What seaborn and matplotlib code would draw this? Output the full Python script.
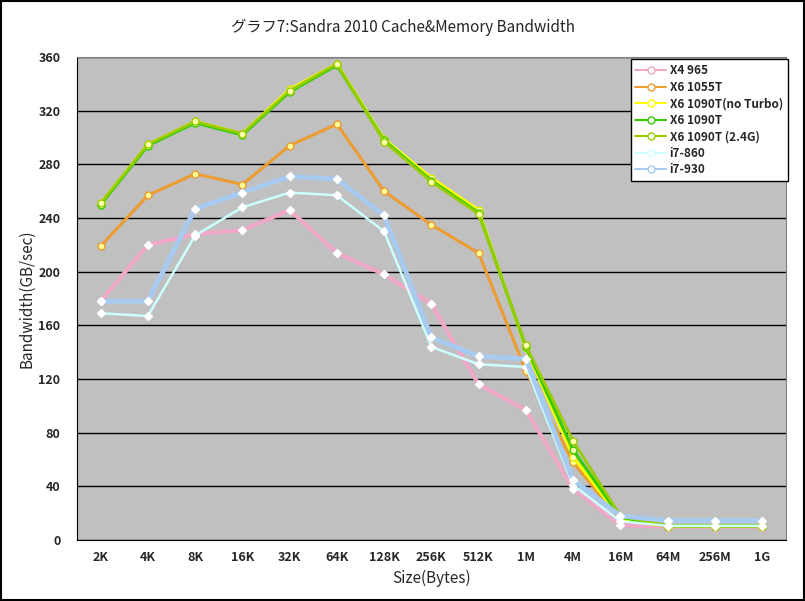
import matplotlib
matplotlib.use("Agg")
import matplotlib.pyplot as plt
import seaborn as sns
import pandas as pd
import numpy as np

sizes = ['2K', '4K', '8K', '16K', '32K', '64K', '128K', '256K', '512K',
         '1M', '4M', '16M', '64M', '256M', '1G']

x4_965 = [178, 220, 228, 231, 246, 214, 198, 176, 116, 97, 38, 11, 10, 10, 10]
x6_1055t = [219, 257, 273, 265, 294, 310, 260, 235, 214, 126, 58, 15, 10, 10, 10]
x6_1090t_noturbo = [251, 295, 312, 303, 336, 355, 299, 270, 246, 143, 62, 16, 10.5, 10.5, 10.5]
x6_1090t = [250, 294, 311, 302, 334, 354, 298, 268, 244, 144, 67, 17, 10.5, 10.5, 10.5]
x6_1090t_24g = [251, 295, 312, 303, 335, 355, 297, 267, 243, 145, 74, 18, 10.5, 10.5, 10.5]
i7_860 = [169, 167, 227, 248, 259, 257, 230, 144, 131, 129, 41, 14, 10.5, 10.5, 10.5]
i7_930 = [178, 178, 247, 259, 271, 269, 242, 151, 137, 135, 45, 18, 14.5, 14.5, 14.5]

series = [
    ('X4 965', x4_965, '#F0A8C8', 3.0, 'D', 'white', 'white'),
    ('X6 1055T', x6_1055t, '#EC9C30', 2.2, 'o', '#FFFF99', '#EC9C30'),
    ('X6 1090T(no Turbo)', x6_1090t_noturbo, '#FFFF00', 2.2, 'o', '#FFFFB0', '#E8E800'),
    ('X6 1090T', x6_1090t, '#33CC00', 2.2, 'o', '#FFFFB0', '#33CC00'),
    ('X6 1090T (2.4G)', x6_1090t_24g, '#99CC00', 2.0, 'o', '#FFFFB0', '#99CC00'),
    ('i7-860', i7_860, '#CCFFFF', 1.8, 'D', 'white', 'white'),
    ('i7-930', i7_930, '#A6CAF0', 3.5, 'D', 'white', 'white'),
]

sns.set_style('white')
plt.rcParams['font.family'] = ['Noto Sans CJK JP', 'DejaVu Sans']

fig = plt.figure(figsize=(8.05, 6.01), dpi=100)
ax = fig.add_axes([0.0957, 0.1015, 0.8803, 0.8035])
ax.set_facecolor('#C0C0C0')

xs = np.arange(len(sizes))
for name, vals, color, lw, mk, mfc, mec in series:
    df = pd.DataFrame({'x': xs, 'y': vals})
    sns.lineplot(data=df, x='x', y='y', ax=ax, color=color, linewidth=lw,
                 marker=mk, markersize=4 if mk == 'D' else 5,
                 markerfacecolor=mfc, markeredgecolor=mec, markeredgewidth=1,
                 label=name)

ax.set_xlim(-0.5, len(sizes) - 0.5)
ax.set_ylim(0, 360)
ax.set_yticks(np.arange(0, 361, 40))
ax.yaxis.grid(True, color='black', linewidth=1)
ax.set_axisbelow(True)
ax.set_xticks(xs)
ax.set_xticklabels(sizes, fontsize=9, fontweight='bold')
ax.set_xticks(np.arange(-0.5, len(sizes)), minor=True)
ax.tick_params(axis='x', which='major', length=0, pad=8)
ax.tick_params(axis='x', which='minor', length=4, direction='out', color='black', width=1)
ax.tick_params(axis='y', length=5, direction='out', color='black', width=1, labelsize=9, pad=7)
for lab in ax.get_yticklabels():
    lab.set_fontweight('bold')

for side in ['top', 'right']:
    ax.spines[side].set_color('#808080')
for side in ['left', 'bottom']:
    ax.spines[side].set_color('black')

ax.set_xlabel('Size(Bytes)', fontsize=11, labelpad=4)
ax.set_ylabel('Bandwidth(GB/sec)', fontsize=11, labelpad=2)
fig.suptitle('グラフ7:Sandra 2010 Cache&Memory Bandwidth', fontsize=11, y=0.968)

leg = ax.legend(loc='upper right', bbox_to_anchor=(1.006, 1.0), frameon=True,
                fancybox=False, edgecolor='black', framealpha=1, fontsize=8.5,
                handlelength=2.6, borderpad=0.4, labelspacing=0.3,
                handletextpad=0.3, borderaxespad=0.2)
leg.get_frame().set_linewidth(1)
for h in leg.legend_handles:
    h.set_linewidth(1.5)
    h.set_marker('o')
    h.set_markerfacecolor('white')
    h.set_markeredgecolor(h.get_color())
    h.set_markersize(5)
for t in leg.get_texts():
    t.set_fontweight('bold')

# outer black border
fig.patches.append(plt.Rectangle((0.001, 0.001), 0.998, 0.998, transform=fig.transFigure,
                                 fill=False, edgecolor='black', linewidth=1.5))

fig.savefig('out.png', dpi=100)
